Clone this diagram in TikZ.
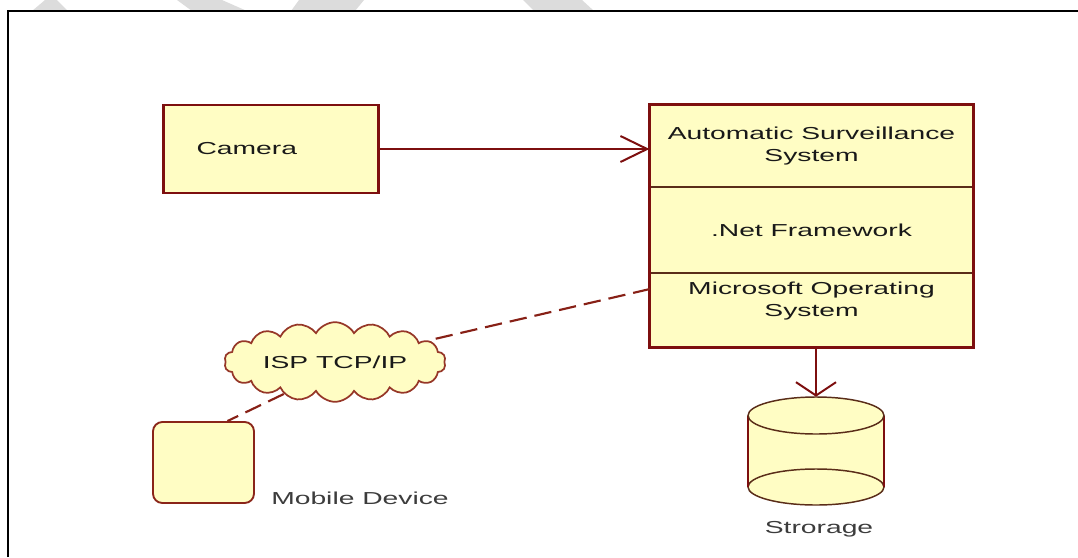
\documentclass[tikz,border=0pt]{standalone}
\usepackage{fontspec}
\setmainfont[FakeStretch=1.63]{Liberation Sans}
\usepackage{tikz}
\usetikzlibrary{arrows.meta,shapes.symbols}
\definecolor{umlfill}{RGB}{255,253,196}
\definecolor{umlborder}{RGB}{125,15,15}
\definecolor{umldivider}{RGB}{90,45,25}
\definecolor{cloudborder}{RGB}{150,55,40}
\definecolor{umltext}{RGB}{25,25,25}
\definecolor{softtext}{RGB}{60,60,60}
\definecolor{wmgray}{RGB}{220,220,220}

\begin{document}
\begin{tikzpicture}[x=0.75pt, y=-0.75pt,
  box/.style={rectangle, fill=umlfill, draw=umlborder, line width=1.8pt, text=umltext, font=\fontsize{13}{17}\selectfont},
  part/.style={rectangle, fill=umlfill, draw=umldivider, line width=0.9pt, minimum width=242.25pt, text=umltext, align=center, font=\fontsize{13}{17}\selectfont, inner sep=0pt},
  lbl/.style={text=softtext, font=\fontsize{13}{17}\selectfont},
  arr/.style={draw=umlborder, line width=1.5pt},
  dashline/.style={draw=umlborder!85!brown, line width=1.6pt, dash pattern=on 13pt off 6pt}
]
\useasboundingbox (0,0) rectangle (1078,557);
\fill[wmgray] (32,11) -- (45,0) -- (57,0) -- (68,11) -- cycle;
\fill[wmgray] (177,0) -- (222,0) -- (247,11) -- (192,11) -- cycle;
\fill[wmgray] (299,0) -- (364,0) -- (355,11) -- (291,11) -- cycle;
\fill[wmgray] (523,0) -- (582,0) -- (594,11) -- (534,11) -- cycle;
\draw[line width=1.9pt] (8,557) -- (8,11) -- (1078,11);

\node[box, minimum width=161.25pt, minimum height=66pt, inner xsep=24.75pt, text width=111.75pt, align=left] (camera) at (271,149) {Camera};

\node[part, minimum height=61.5pt] (ass) at (811.5,146) {Automatic Surveillance\\System};
\node[part, minimum height=64.5pt] (net) at (811.5,230) {.Net Framework};
\node[part, minimum height=55.5pt, text depth=16pt] (mos) at (811.5,310) {Microsoft Operating\\System};
\draw[umlborder, line width=1.8pt] (ass.north west) rectangle (mos.south east);

\node[cloud, cloud puffs=18, cloud puff arc=120, aspect=3.4, fill=umlfill, draw=cloudborder, line width=1.3pt, inner sep=0pt, minimum width=166pt, minimum height=40pt, text=umltext, font=\fontsize{13}{17}\selectfont] (cloud) at (335,362) {ISP TCP/IP};

\node[rectangle, rounded corners=7pt, fill=umlfill, draw=umlborder!80!brown, line width=1.4pt, minimum width=75.75pt, minimum height=60.75pt] (mobile) at (203.5,462.5) {};
\node[lbl] (mobtxt) at (360,498) {Mobile Device};

\node[inner sep=0pt, minimum width=102pt, minimum height=81pt] (storage) at (816,451) {};
\fill[umlfill] (816,487) ellipse (68 and 18);
\fill[umlfill] (748,415.5) rectangle (884,487);
\draw[umldivider, line width=1.1pt] (816,487) ellipse (68 and 18);
\draw[umlborder, line width=1.8pt] (748,415.5) -- (748,487) (884,415.5) -- (884,487);
\filldraw[fill=umlfill, draw=umldivider, line width=1.1pt] (816,415.5) ellipse (68 and 18.5);
\node[lbl] (storetxt) at (819,529) {Strorage};

\coordinate (osport) at (650,289);
\draw[arr, -{Straight Barb[length=20pt, width=19.5pt]}] (camera.east) -- (camera.east -| ass.west);
\draw[arr, -{Straight Barb[length=10pt, width=30pt]}] (mos.south -| storage.north) -- (storage.north);
\draw[dashline] (osport) -- (cloud.13);
\draw[dashline] (cloud.212) -- (mobile.60);
\end{tikzpicture}
\end{document}
